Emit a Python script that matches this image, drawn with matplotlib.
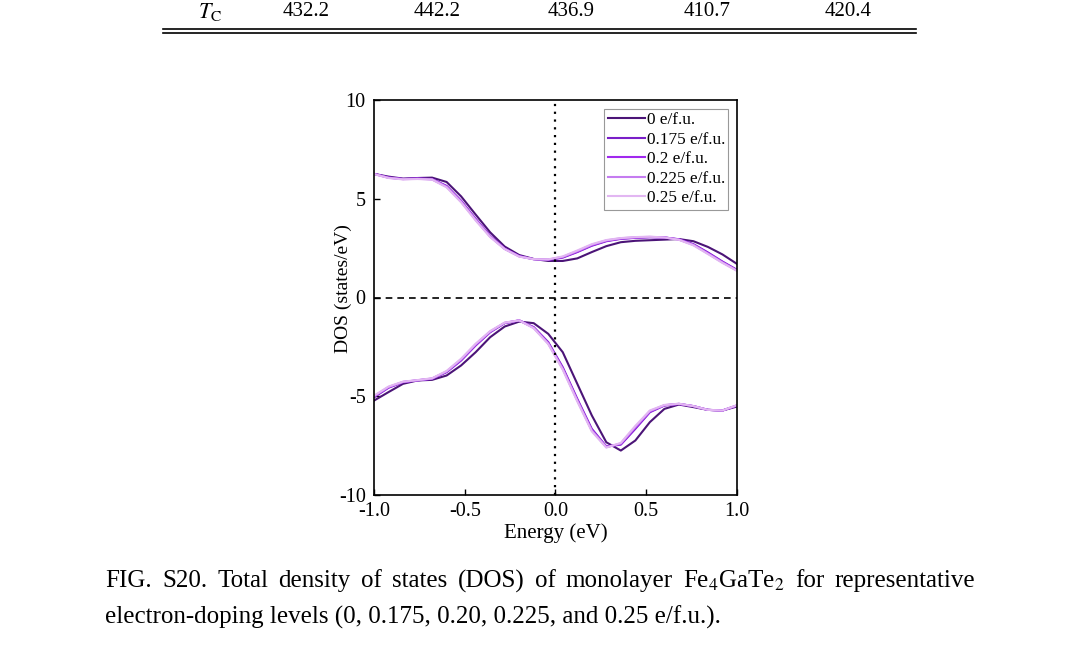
import numpy as np
import matplotlib
matplotlib.use('Agg')
import matplotlib.pyplot as plt

plt.rcParams['font.family'] = ['Liberation Serif', 'DejaVu Serif']
plt.rcParams['mathtext.fontset'] = 'stix'
plt.rcParams['axes.unicode_minus'] = False

# energy grid (eV)
energy = np.linspace(-1.0, 1.0, 26)

# spin-up DOS (states/eV)
up_0 = [6.26, 6.12, 6.02, 6.05, 6.07, 5.85, 5.12, 4.20, 3.30, 2.58, 2.15, 1.95, 1.85,
        1.85, 1.98, 2.30, 2.60, 2.80, 2.87, 2.90, 2.93, 2.96, 2.85, 2.56, 2.18, 1.70]
up_175 = [6.26, 6.08, 6.00, 6.03, 6.00, 5.65, 4.90, 3.98, 3.12, 2.48, 2.10, 1.94, 1.90,
          2.02, 2.30, 2.62, 2.85, 2.97, 3.02, 3.05, 3.04, 2.95, 2.70, 2.28, 1.82, 1.40]
up_200 = [6.26, 6.07, 6.00, 6.02, 5.99, 5.63, 4.88, 3.96, 3.10, 2.47, 2.09, 1.94, 1.91,
          2.04, 2.32, 2.64, 2.87, 2.98, 3.03, 3.06, 3.04, 2.94, 2.68, 2.25, 1.80, 1.38]
up_225 = [6.25, 6.06, 5.99, 6.01, 5.98, 5.60, 4.85, 3.93, 3.08, 2.46, 2.08, 1.94, 1.92,
          2.06, 2.35, 2.67, 2.89, 3.00, 3.05, 3.07, 3.04, 2.93, 2.66, 2.22, 1.77, 1.36]
up_250 = [6.25, 6.05, 5.98, 6.00, 5.97, 5.58, 4.82, 3.90, 3.06, 2.45, 2.07, 1.94, 1.93,
          2.08, 2.38, 2.70, 2.91, 3.01, 3.06, 3.08, 3.04, 2.92, 2.64, 2.20, 1.75, 1.35]

# spin-down DOS (states/eV)
dn_0 = [-5.22, -4.79, -4.37, -4.20, -4.17, -3.95, -3.44, -2.77, -2.01, -1.47, -1.22, -1.30, -1.84,
        -2.77, -4.37, -5.97, -7.33, -7.75, -7.24, -6.31, -5.64, -5.42, -5.55, -5.69, -5.72, -5.52]
dn_175 = [-5.05, -4.57, -4.29, -4.20, -4.12, -3.78, -3.19, -2.43, -1.76, -1.30, -1.16, -1.50, -2.26,
          -3.53, -5.13, -6.65, -7.54, -7.45, -6.65, -5.81, -5.47, -5.39, -5.50, -5.69, -5.72, -5.47]
dn_200 = [-5.03, -4.55, -4.28, -4.19, -4.11, -3.76, -3.16, -2.40, -1.74, -1.29, -1.16, -1.52, -2.30,
          -3.58, -5.18, -6.70, -7.56, -7.42, -6.60, -5.78, -5.46, -5.39, -5.50, -5.69, -5.72, -5.47]
dn_225 = [-5.00, -4.53, -4.27, -4.19, -4.10, -3.74, -3.13, -2.37, -1.72, -1.28, -1.16, -1.54, -2.33,
          -3.62, -5.22, -6.74, -7.58, -7.39, -6.55, -5.75, -5.45, -5.38, -5.50, -5.69, -5.72, -5.46]
dn_250 = [-4.97, -4.51, -4.26, -4.18, -4.09, -3.72, -3.10, -2.34, -1.70, -1.27, -1.16, -1.56, -2.36,
          -3.66, -5.26, -6.78, -7.60, -7.36, -6.50, -5.72, -5.44, -5.38, -5.50, -5.69, -5.72, -5.45]

labels = ["0 e/f.u.", "0.175 e/f.u.", "0.2 e/f.u.", "0.225 e/f.u.", "0.25 e/f.u."]
ups = [up_0, up_175, up_200, up_225, up_250]
dns = [dn_0, dn_175, dn_200, dn_225, dn_250]
colors = ['#4b1477', '#7a1fc8', '#a128ee', '#c57cf0', '#e2b6f2']

# table row above the figure
tc_label = r"$T_{\rm C}$"
tc_values = ["432.2", "442.2", "436.9", "410.7", "420.4"]
tc_xpix = [306, 437, 571, 707, 848]

caption1 = r"FIG. S20. Total density of states (DOS) of monolayer Fe$_4$GaTe$_2$ for representative"
caption2 = "electron-doping levels (0, 0.175, 0.20, 0.225, and 0.25 e/f.u.)."

W, H = 1080, 651
fig = plt.figure(figsize=(W / 100, H / 100), dpi=100)

def px(x, y):
    return x / W, 1 - y / H

ax = fig.add_axes([374 / W, 1 - 495 / H, 363 / W, 395 / H])
for up, dn, c, lab in zip(ups, dns, colors, labels):
    ax.plot(energy, up, color=c, lw=1.5, label=lab)
    ax.plot(energy, dn, color=c, lw=1.5)

ax.axhline(0, color='k', ls=(0, (4, 3)), lw=1.2)
ax.axvline(0, color='k', ls=(0, (1, 2.5)), lw=1.6)

ax.set_xlim(-1, 1)
ax.set_ylim(-10, 10)
ax.set_xticks([-1, -0.5, 0, 0.5, 1])
ax.set_xticklabels(["-1.0", "-0.5", "0.0", "0.5", "1.0"])
ax.set_yticks([-10, -5, 0, 5, 10])
ax.set_yticklabels(["-10", "-5", "0", "5", "10"])
ax.tick_params(direction='in', length=4, width=1, labelsize=14.5)
ax.tick_params(axis='x', pad=5)
ax.tick_params(axis='y', pad=6)
for s in ax.spines.values():
    s.set_linewidth(1.2)
ax.set_xlabel("Energy (eV)", fontsize=15, labelpad=2)
ax.set_ylabel("DOS (states/eV)", fontsize=14)
ax.yaxis.set_label_coords((352 - 374) / 363, (495 - 289) / 395)

leg = ax.legend(loc='upper right', fontsize=12.4, handlelength=2.15, handletextpad=0.1,
                labelspacing=0.2, borderpad=0.2, borderaxespad=0.5, fancybox=False,
                edgecolor='#999999', framealpha=1)
leg.get_frame().set_linewidth(0.8)

# table row
fig.text(*px(210, 12), tc_label, fontsize=16, ha='center', va='center')
for v, x in zip(tc_values, tc_xpix):
    fig.text(*px(x, 12), v, fontsize=15, ha='center', va='center')
fig.add_artist(plt.Line2D([163 / W, 916 / W], [1 - 29 / H] * 2, color='k', lw=1.2))
fig.add_artist(plt.Line2D([163 / W, 916 / W], [1 - 33 / H] * 2, color='k', lw=1.2))

# caption, first line justified
cap_fs = 18
words = caption1.split(' ')
objs = [fig.text(0, 1 - 581 / H, w, fontsize=cap_fs, ha='left', va='center') for w in words]
fig.canvas.draw()
r = fig.canvas.get_renderer()
widths = [o.get_window_extent(r).width for o in objs]
gap = (975 - 105 - sum(widths)) / (len(words) - 1)
x = 105
for o, w in zip(objs, widths):
    o.set_x(x / W)
    x += w + gap
fig.text(*px(105, 617), caption2, fontsize=cap_fs, ha='left', va='center')

fig.savefig("out.png", dpi=100)
